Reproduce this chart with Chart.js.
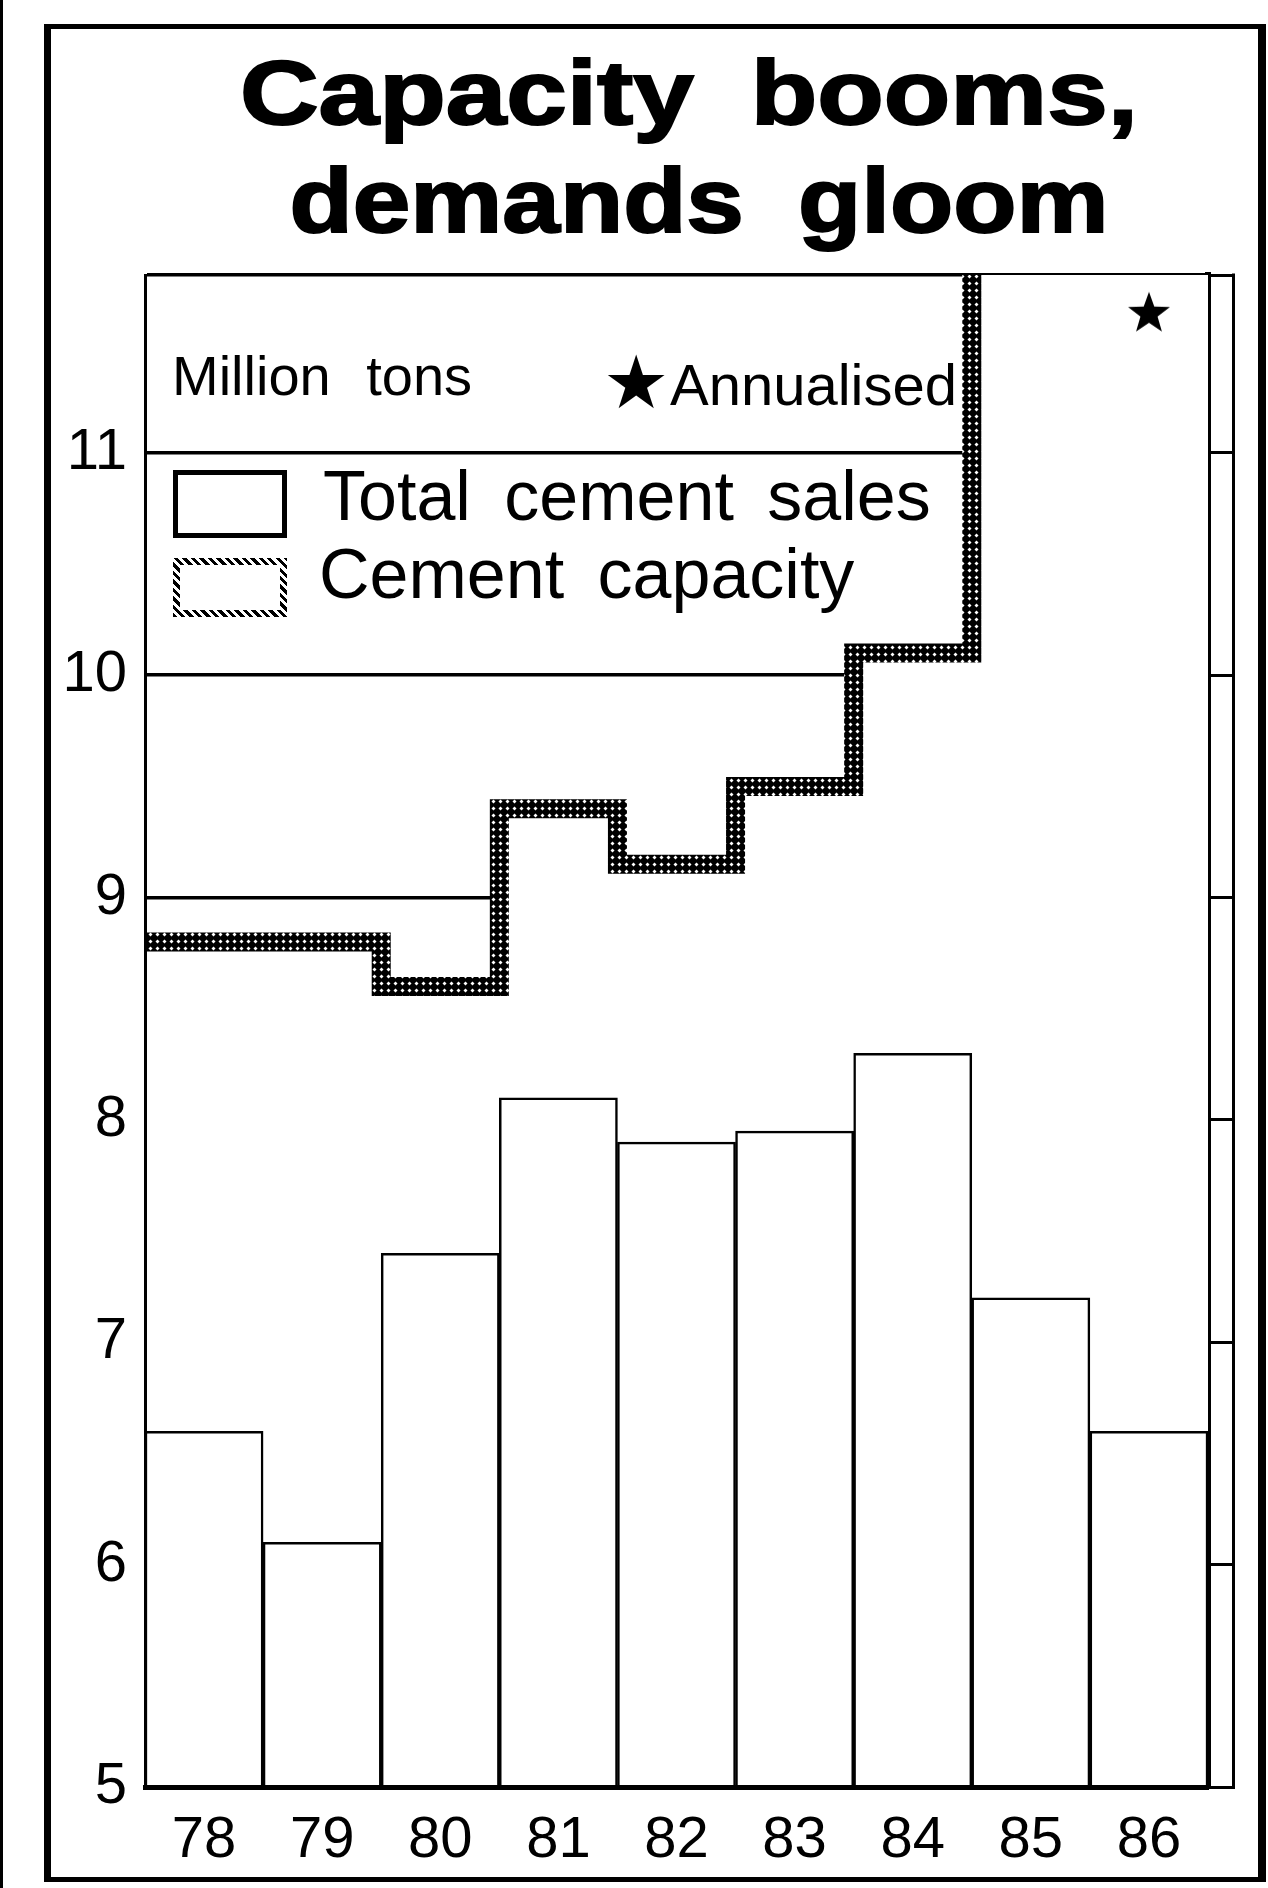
<!DOCTYPE html>
<html lang="en">
<head>
<meta charset="UTF-8">
<title>Capacity booms, demands gloom</title>
<script src="https://cdn.jsdelivr.net/npm/chart.js"></script>
<style>
  body { margin: 0; background: #fff; }
  #page { position: relative; width: 1268px; height: 1888px; overflow: hidden; font-family: "Liberation Sans", Arial, sans-serif; color: #000; }
  #edge { position: absolute; left: 0; top: 0; width: 3px; height: 1888px; background: #000; }
  #frame { position: absolute; left: 44px; top: 24px; width: 1222px; height: 1858px; box-sizing: border-box; border: solid #000; border-width: 5px 8px 5px 7px; }
  #chart { position: absolute; left: 0; top: 0; }
  .title { position: absolute; width: 1268px; text-align: center; white-space: nowrap; font-weight: bold; font-size: 90px; line-height: 90px; word-spacing: 22px; -webkit-text-stroke: 2px #000; }
  .txt { position: absolute; white-space: nowrap; }
  .box { position: absolute; box-sizing: border-box; }
</style>
</head>
<body>
<div id="page">
  <div id="edge"></div>
  <div id="frame"></div>
  <canvas id="chart" width="1268" height="1888"></canvas>

  <div class="title" style="left:55px; top:48px; transform:scaleX(1.21);">Capacity booms,</div>
  <div class="title" style="left:65px; top:156px; transform:scaleX(1.15);">demands gloom</div>

  <div class="txt" style="left:172px; top:348px; font-size:56px; line-height:56px; word-spacing:20px;">Million tons</div>
  <div class="txt" style="left:603px; top:345px; font-size:74px; line-height:74px; font-family:'DejaVu Sans';">★</div>
  <div class="txt" style="left:670px; top:356px; font-size:58px; line-height:58px;">Annualised</div>

  <div class="box" style="left:173px; top:470px; width:114px; height:68px; border:5px solid #000; background:#fff;"></div>
  <div class="txt" style="left:323px; top:461px; font-size:70px; line-height:70px; word-spacing:14px;">Total cement sales</div>
  <div class="box" style="left:173px; top:558px; width:114px; height:59px; background:#fff repeating-linear-gradient(45deg, #000 0 3px, transparent 3px 6px); padding:7px;">
    <div style="width:100%; height:100%; background:#fff;"></div>
  </div>
  <div class="txt" style="left:319px; top:539px; font-size:70px; line-height:70px; word-spacing:14px;">Cement capacity</div>
</div>

<script>
  // Million tons, 1978-86
  const years = ['78', '79', '80', '81', '82', '83', '84', '85', '86'];
  const sales = [6.6, 6.1, 7.4, 8.1, 7.9, 7.95, 8.3, 7.2, 6.6];
  const capacity = [8.8, 8.8, 8.6, 9.4, 9.15, 9.5, 10.1, 12.2, 12.2];
  const annualisedYear = '86';
  const annualisedMark = 11.63;
  const yTicks = [5, 6, 7, 8, 9, 10, 11];

  const canvas = document.getElementById('chart');
  const ctx = canvas.getContext('2d');

  // dark mesh with small white holes for the capacity outline
  const tile = document.createElement('canvas');
  tile.width = 7;
  tile.height = 7;
  const tg = tile.getContext('2d');
  tg.fillStyle = '#000';
  tg.fillRect(0, 0, 7, 7);
  tg.fillStyle = '#fff';
  tg.beginPath();
  tg.moveTo(3.5, 1.5); tg.lineTo(5.5, 3.5); tg.lineTo(3.5, 5.5); tg.lineTo(1.5, 3.5);
  tg.closePath();
  tg.fill();
  const hatch = ctx.createPattern(tile, 'repeat');

  // filled star marker for the annualised year
  const star = document.createElement('canvas');
  star.width = 46;
  star.height = 46;
  const sg = star.getContext('2d');
  sg.fillStyle = '#000';
  sg.beginPath();
  for (let k = 0; k < 10; k++) {
    const r = k % 2 === 0 ? 22 : 9;
    const a = -Math.PI / 2 + k * Math.PI / 5;
    sg.lineTo(23 + r * Math.cos(a), 24 + r * Math.sin(a));
  }
  sg.closePath();
  sg.fill();

  // capacity as a step outline spanning each year's full width
  const capacitySteps = capacity.map((v, i) => ({ x: i - 0.5, y: v }));
  capacitySteps.push({ x: capacity.length - 0.5, y: capacity[capacity.length - 1] });

  const withTop = s => { s.ticks = yTicks.map(v => ({ value: v })).concat([{ value: s.max }]); };

  const stripEdge = {
    id: 'stripEdge',
    afterDraw(chart) {
      const s = chart.scales.y2;
      const c = chart.ctx;
      c.save();
      c.strokeStyle = '#000';
      c.lineWidth = 3;
      c.beginPath();
      c.moveTo(s.right - 1.5, s.top - 1.5);
      c.lineTo(s.right - 1.5, s.bottom + 1.5);
      c.stroke();
      c.restore();
    }
  };

  new Chart(ctx, {
    type: 'bar',
    data: {
      labels: years,
      datasets: [
        {
          type: 'line',
          label: 'Annualised',
          data: [{ x: years.indexOf(annualisedYear), y: annualisedMark }],
          showLine: false,
          pointStyle: star,
          pointRadius: 23,
          xAxisID: 'xs',
          yAxisID: 'y',
          order: 0
        },
        {
          label: 'Total cement sales',
          data: sales,
          backgroundColor: '#fff',
          borderColor: '#000',
          borderWidth: 2.5,
          borderSkipped: 'start',
          categoryPercentage: 1,
          barPercentage: 1,
          grouped: false,
          xAxisID: 'x',
          yAxisID: 'y',
          order: 1
        },
        {
          type: 'line',
          label: 'Cement capacity',
          data: capacitySteps,
          xAxisID: 'xs',
          yAxisID: 'y',
          stepped: 'before',
          borderColor: hatch,
          borderWidth: 19,
          borderJoinStyle: 'miter',
          borderCapStyle: 'butt',
          backgroundColor: '#fff',
          fill: 'start',
          pointRadius: 0,
          clip: 0,
          order: 2
        }
      ]
    },
    options: {
      responsive: false,
      animation: false,
      devicePixelRatio: 1,
      layout: { padding: { left: 0, right: 33, top: 275, bottom: 0 } },
      plugins: {
        legend: { display: false },
        tooltip: { enabled: false }
      },
      scales: {
        x: {
          type: 'category',
          offset: true,
          grid: { display: false },
          border: { display: true, color: '#000', width: 5, z: 1 },
          ticks: {
            color: '#000',
            padding: 11,
            font: { family: '"Liberation Sans", Arial, sans-serif', size: 58 }
          },
          afterFit: s => { s.height = 101; }
        },
        xs: {
          type: 'linear',
          display: false,
          offset: false,
          grid: { offset: false },
          min: -0.5,
          max: 8.5
        },
        y: {
          min: 5,
          max: 11.8,
          afterBuildTicks: withTop,
          grid: { color: '#000', lineWidth: 3.5, drawTicks: false },
          border: { color: '#000', width: 3, z: 1 },
          ticks: {
            color: '#000',
            padding: 18,
            autoSkip: false,
            font: { family: '"Liberation Sans", Arial, sans-serif', size: 58 },
            callback: v => (yTicks.includes(v) ? v : '')
          },
          afterFit: s => { s.width = 145; }
        },
        y2: {
          position: 'right',
          min: 5,
          max: 11.8,
          afterBuildTicks: withTop,
          grid: { drawOnChartArea: false, color: '#000', lineWidth: 3, tickLength: 27 },
          border: { color: '#000', width: 6 },
          ticks: { display: false },
          afterFit: s => { s.width = 27; }
        }
      }
    },
    plugins: [stripEdge]
  });
</script>
</body>
</html>
